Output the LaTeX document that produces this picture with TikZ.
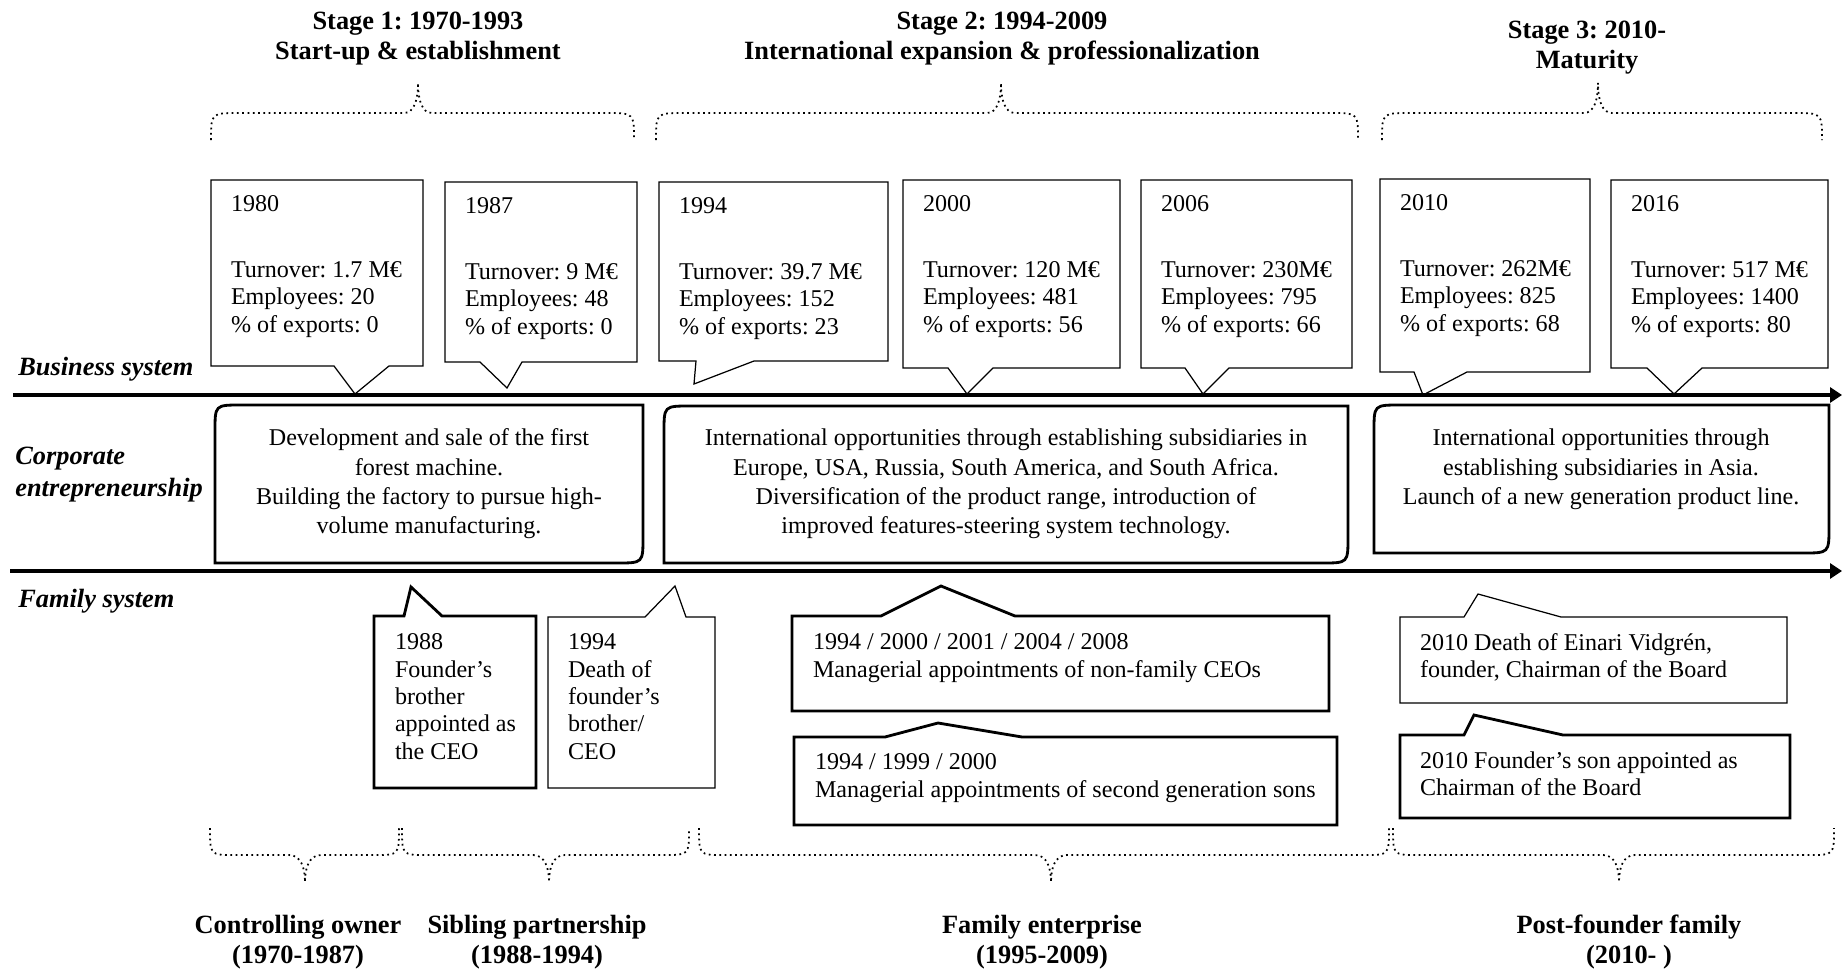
\documentclass[tikz,border=0pt]{standalone}
\usepackage{fontspec}
\setmainfont{Liberation Serif}
\usetikzlibrary{arrows.meta}
\frenchspacing

\tikzset{
  txt/.style={inner sep=0pt, outer sep=0pt, align=left, anchor=north west,
    font=\fontsize{13.7pt}{15.6pt}\selectfont},
  corptxt/.style={inner sep=0pt, align=center, anchor=north,
    font=\fontsize{13.7pt}{16.7pt}\selectfont},
  headtxt/.style={inner sep=0pt, align=center, anchor=north,
    font=\fontsize{15pt}{17pt}\selectfont\bfseries},
  rowtxt/.style={inner sep=0pt, font=\fontsize{15pt}{18pt}\selectfont\bfseries\itshape},
  thinbox/.style={draw, line width=0.7pt},
  thickbox/.style={draw, line width=1.6pt},
  corpbox/.style={draw, line width=1.6pt},
  timeline/.style={line width=1.9pt, -{Triangle[length=6.8pt,width=8.5pt]}},
  dotbrace/.style={dotted, line width=1pt},
}

\begin{document}
\begin{tikzpicture}[x=0.2mm, y=-0.2mm]
  \useasboundingbox (0,0) rectangle (1842,971);

  \node[headtxt] (st1) at (418,12) {Stage 1: 1970-1993\\Start-up \& establishment};
  \node[headtxt] (st2) at (1002,12) {Stage 2: 1994-2009\\International expansion \& professionalization};
  \node[headtxt] (st3) at (1587,21) {Stage 3: 2010-\\Maturity};

  \foreach \xa/\xb/\xt in {211/634/418, 656/1358/1001, 1382/1822/1598}
    \draw[dotbrace] (\xa,140) .. controls (\xa,113) .. (\xa+28,113) -- (\xt-14,113)
      .. controls (\xt-4,113) and (\xt,100) .. (\xt,83)
      .. controls (\xt,100) and (\xt+4,113) .. (\xt+14,113) -- (\xb-28,113)
      .. controls (\xb,113) .. (\xb,140);

  \foreach \yr/\tv/\emp/\ex/\xa/\ya/\xb/\yb/\pa/\px/\py/\pb in {
      1980/1.7 M€/20/0/211/180/423/366/334/355/394/389,
      1987/9 M€/48/0/445/182/637/362/480/507/388/522,
      1994/39.7 M€/152/23/659/182/888/361/696/694/384/754,
      2000/120 M€/481/56/903/180/1120/368/948/967/394/993,
      2006/230M€/795/66/1141/180/1352/368/1185/1203/394/1229,
      2010/262M€/825/68/1380/179/1590/372/1414/1423/395/1467,
      2016/517 M€/1400/80/1611/180/1828/368/1647/1674/394/1702} {
    \node[txt] (yr\yr) at (\xa+20,\ya+15.7)
      {\yr\\[21.8pt]Turnover: \tv\\Employees: \emp\\\% of exports: \ex};
    \draw[thinbox] (\xa,\ya) -- (\xb,\ya) -- (\xb,\yb) -- (\pb,\yb) -- (\px,\py)
      -- (\pa,\yb) -- (\xa,\yb) -- cycle;
  }

  \node[rowtxt, anchor=base west] (rbs) at (18,375) {Business system};
  \node[rowtxt, align=left, anchor=north west] (rce) at (15,447) {Corporate\\entrepreneurship};
  \node[rowtxt, anchor=base west] (rfs) at (18,607) {Family system};

  \coordinate (bsL) at (13,395);
  \coordinate (bsR) at (1842,395);
  \coordinate (fmL) at (10,571);
  \coordinate (fmR) at (1842,571);
  \draw[timeline] (bsL) -- (bsR);
  \draw[timeline] (fmL) -- (fmR);

  \foreach \xa/\ya/\xb/\yb in {215/405/643/563, 664/406/1348/563, 1374/405/1829/553}
    \draw[corpbox] (\xa,\yb) -- (\xa,\ya+26) .. controls (\xa,\ya) .. (\xa+26,\ya)
      -- (\xb,\ya) -- (\xb,\yb-26) .. controls (\xb,\yb) .. (\xb-26,\yb) -- cycle;
  \node[corptxt] (cp1) at (429,428.6) {Development and sale of the first\\forest machine.\\Building the factory to pursue high-\\volume manufacturing.};
  \node[corptxt] (cp2) at (1006,428.6) {International opportunities through establishing subsidiaries in\\Europe, USA, Russia, South America, and South Africa.\\Diversification of the product range, introduction of\\improved features-steering system technology.};
  \node[corptxt] (cp3) at (1601,428.6) {International opportunities through\\establishing subsidiaries in Asia.\\Launch of a new generation product line.};

  \node[txt] (fm1988) at (395,633.7) {1988\\Founder’s\\brother\\appointed as\\the CEO};
  \draw[thickbox] (374,788) -- (374,616) -- (404,616) -- (411,587) -- (442,616)
    -- (536,616) -- (536,788) -- cycle;

  \node[txt] (fm1994) at (568,633.7) {1994\\Death of\\founder’s\\brother/\\CEO};
  \draw[thinbox] (548,788) -- (548,617) -- (645,617) -- (675,586) -- (686,617)
    -- (715,617) -- (715,788) -- cycle;

  \node[txt] (fmceo) at (813,633.7) {1994 / 2000 / 2001 / 2004 / 2008\\Managerial appointments of non-family CEOs};
  \draw[thickbox] (792,711) -- (792,616) -- (881,616) -- (941,586) -- (1015,616)
    -- (1329,616) -- (1329,711) -- cycle;

  \node[txt] (fmsons) at (815,753.7) {1994 / 1999 / 2000\\Managerial appointments of second generation sons};
  \draw[thickbox] (794,825) -- (794,737) -- (885,737) -- (938,723) -- (1022,737)
    -- (1337,737) -- (1337,825) -- cycle;

  \node[txt] (fmdeath) at (1420,633.6) {2010 Death of Einari Vidgrén,\\founder, Chairman of the Board};
  \draw[thinbox] (1400,703) -- (1400,617) -- (1464,617) -- (1478,594) -- (1561,617)
    -- (1787,617) -- (1787,703) -- cycle;

  \node[txt] (fmson) at (1420,751.6) {2010 Founder’s son appointed as\\Chairman of the Board};
  \draw[thickbox] (1400,818) -- (1400,735) -- (1464,735) -- (1474,715) -- (1563,735)
    -- (1790,735) -- (1790,818) -- cycle;

  \foreach \xa/\xb/\xt in {210/399/305, 402/689/549, 699/1389/1051, 1393/1834/1619}
    \draw[dotbrace] (\xa,828) .. controls (\xa,855) .. (\xa+24,855) -- (\xt-16,855)
      .. controls (\xt-4,855) and (\xt,868) .. (\xt,882)
      .. controls (\xt,868) and (\xt+4,855) .. (\xt+16,855) -- (\xb-24,855)
      .. controls (\xb,855) .. (\xb,828);

  \node[headtxt] (ph1) at (298,915) {Controlling owner\\(1970-1987)};
  \node[headtxt] (ph2) at (537,915) {Sibling partnership\\(1988-1994)};
  \node[headtxt] (ph3) at (1042,915) {Family enterprise\\(1995-2009)};
  \node[headtxt] (ph4) at (1629,915) {Post-founder family\\(2010- )};
\end{tikzpicture}
\end{document}
